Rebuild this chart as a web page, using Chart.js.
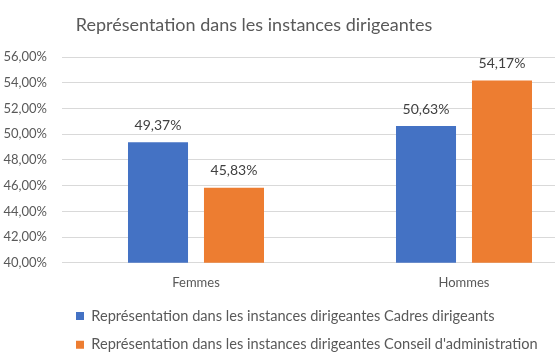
<!DOCTYPE html>
<html>
<head>
<meta charset="utf-8">
<script src="https://cdn.jsdelivr.net/npm/chart.js@4/dist/chart.umd.min.js"></script>
<style>
  html, body { margin: 0; padding: 0; background: #fff; overflow: hidden; }
  /* the reference is a cropped shot: plot runs past the right edge */
  #wrap { position: absolute; left: -90px; top: 0; width: 690px; height: 362px; }
</style>
</head>
<body>
<div id="wrap"><canvas id="chart"></canvas></div>
<script>
var categories = ['Femmes', 'Hommes'];
var cadresDirigeants = [49.37, 50.63];
var conseilAdministration = [45.83, 54.17];
var seriesNames = [
  'Représentation dans les instances dirigeantes Cadres dirigeants',
  'Représentation dans les instances dirigeantes Conseil d\'administration'
];
var chartTitle = 'Représentation dans les instances dirigeantes';
var yMin = 40, yMax = 56, yStep = 2;

var GREY = '#595959';
var FONT = 'Lato';
var SHIFT = 90; // part of the canvas hidden off the left edge

function pct(v) {
  return v.toFixed(2).replace('.', ',') + '%';
}

// draws the value above each bar
var barValues = {
  id: 'barValues',
  afterDatasetsDraw: function (chart) {
    var ctx = chart.ctx;
    ctx.save();
    ctx.font = '14px ' + FONT;
    ctx.fillStyle = '#404040';
    ctx.textAlign = 'center';
    ctx.textBaseline = 'middle';
    chart.data.datasets.forEach(function (ds, i) {
      chart.getDatasetMeta(i).data.forEach(function (bar, j) {
        ctx.fillText(pct(ds.data[j]), bar.x, bar.y - 17);
      });
    });
    ctx.restore();
  }
};

new Chart(document.getElementById('chart'), {
  type: 'bar',
  data: {
    labels: categories,
    datasets: [{
      label: seriesNames[0],
      data: cadresDirigeants,
      backgroundColor: '#4472C4'
    }, {
      label: seriesNames[1],
      data: conseilAdministration,
      backgroundColor: '#ED7D31'
    }]
  },
  options: {
    responsive: true,
    maintainAspectRatio: false,
    animation: false,
    categoryPercentage: 0.567,
    barPercentage: 0.79,
    layout: { padding: { left: 0, right: 2, top: 0, bottom: 0 } },
    plugins: {
      title: {
        display: true,
        text: chartTitle,
        color: GREY,
        font: { family: FONT, size: 18, weight: 'normal' },
        padding: { top: 14.5, bottom: 20.9 }
      },
      legend: {
        position: 'bottom',
        align: 'start',
        fullSize: false,
        labels: {
          color: GREY,
          font: { family: FONT, size: 14.6 },
          boxWidth: 8,
          boxHeight: 8,
          padding: 14
        }
      },
      tooltip: { enabled: false }
    },
    scales: {
      x: {
        grid: { display: false, drawTicks: false },
        border: { display: false },
        ticks: { color: GREY, font: { family: FONT, size: 13 }, padding: 12 },
        afterFit: function (scale) { scale.height = 32; }
      },
      y: {
        min: yMin,
        max: yMax,
        grid: { color: '#D9D9D9', drawTicks: false },
        border: { display: false },
        ticks: {
          stepSize: yStep,
          color: GREY,
          font: { family: FONT, size: 13 },
          padding: 15,
          callback: function (v) { return pct(v); }
        },
        afterFit: function (scale) { scale.width = 62 + SHIFT; }
      }
    }
  },
  plugins: [barValues]
});
</script>
</body>
</html>
